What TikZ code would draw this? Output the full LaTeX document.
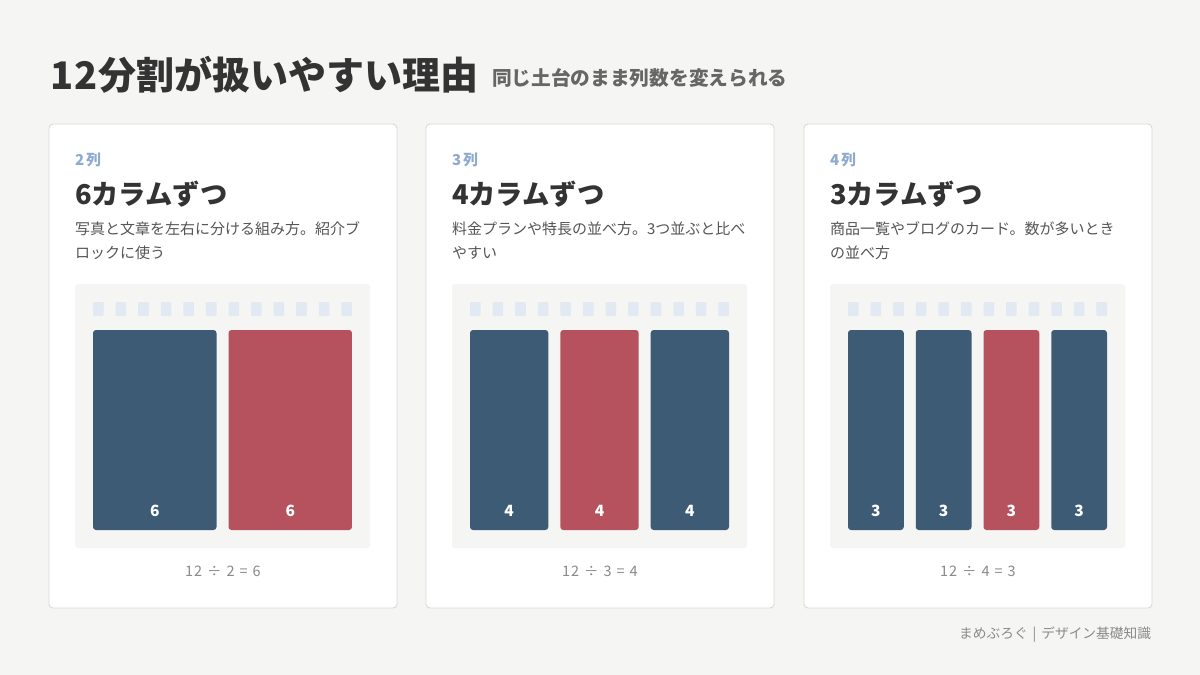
\documentclass[tikz,border=0pt]{standalone}
\usepackage{fontspec}
\setmainfont{Noto Sans CJK JP}
\definecolor{bgc}{HTML}{F5F5F3}
\definecolor{cardline}{HTML}{D9D9D7}
\definecolor{panelc}{HTML}{F5F5F3}
\definecolor{tickc}{HTML}{E2E9F3}
\definecolor{bluec}{HTML}{3E5B76}
\definecolor{redc}{HTML}{B5525E}
\definecolor{labelc}{HTML}{8EAAD0}
\definecolor{titlec}{HTML}{333333}
\definecolor{subc}{HTML}{666666}
\definecolor{descc}{HTML}{555555}
\definecolor{greyc}{HTML}{8A8A8A}
\tikzset{
  txt/.style={inner sep=0pt, outer sep=0pt},
  cardbox/.style={fill=white, draw=cardline, line width=0.9pt, rounded corners=4pt},
  panelbox/.style={fill=panelc, rounded corners=3pt},
  tickbox/.style={fill=tickc, rounded corners=0.8pt},
  colbox/.style={rounded corners=3pt},
}
\begin{document}
\begin{tikzpicture}[x=1pt,y=-1pt]
\useasboundingbox (0,0) rectangle (1200,675);
\fill[bgc] (0,0) rectangle (1200,675);
\node[txt, anchor=base west, text=titlec, font=\fontsize{38}{44}\selectfont\bfseries] (title) at (50,89) {1\kern1pt2\kern1pt分割が扱いやすい理由};
\node[txt, anchor=base west, text=subc, font=\fontsize{19.7}{24}\selectfont\bfseries] (subtitle) at (492,85.5) {同じ土台のまま列数を変えられる};
\foreach \i/\dx/\n/\s/\hl/\lab/\labn/\head/\la/\lb/\fa/\fb in {
  1/0/2/6/1/2/列/6カラムずつ/写真と文章を左右に分ける組み方。紹介ブ/ロックに使う/2/6,
  2/377/3/4/1/3/列/4カラムずつ/料金プランや特長の並べ方。3つ並ぶと比べ/やすい/3/4,
  3/755/4/3/2/4/列/3カラムずつ/商品一覧やブログのカード。数が多いとき/の並べ方/4/3}{
  \draw[cardbox] (49+\dx,124) rectangle (397+\dx,608);
  \fill[panelbox] (75+\dx,284) rectangle (370+\dx,548);
  \node[txt, anchor=base west, text=labelc, font=\fontsize{15}{18}\selectfont\bfseries] (lab-\i) at (75+\dx,165.5) {\lab\kern2pt\labn};
  \node[txt, anchor=base west, text=titlec, font=\fontsize{27.3}{32}\selectfont\bfseries] (head-\i) at (75+\dx,204) {\head};
  \node[txt, anchor=base west, text=descc, font=\fontsize{15}{24}\selectfont] (desca-\i) at (75+\dx,234.5) {\la};
  \node[txt, anchor=base west, text=descc, font=\fontsize{15}{24}\selectfont] (descb-\i) at (75+\dx,258.5) {\lb};
  \foreach \k in {0,...,11}{
    \fill[tickbox] ({93+\dx+\k*22.583},302) rectangle ++(10.583,14);
  }
  \pgfmathtruncatemacro{\nn}{\n-1}
  \foreach \j in {0,...,\nn}{
    \pgfmathsetmacro{\xa}{93+\dx+\j*\s*22.583}
    \pgfmathsetmacro{\xb}{\xa+\s*22.583-12}
    \pgfmathsetmacro{\xc}{(\xa+\xb)/2}
    \ifnum\j=\hl
      \fill[colbox, redc] (\xa,330) rectangle (\xb,530);
    \else
      \fill[colbox, bluec] (\xa,330) rectangle (\xb,530);
    \fi
    \node[txt, anchor=base, text=white, font=\fontsize{15.5}{18}\selectfont\bfseries] (num-\i-\j) at (\xc,516.5) {\s};
  }
  \node[txt, anchor=base, text=greyc, font=\fontsize{14.5}{18}\selectfont] (frm-\i) at (223+\dx,576.5) {1\kern0.8pt2\kern5pt÷\kern5pt\fa\kern5pt=\kern5pt\fb};
}
\node[txt, anchor=base east, text=greyc, font=\fontsize{13.7}{16}\selectfont] (footer) at (1151,638.5) {まめぶろぐ\kern5pt|\kern5ptデザイン基礎知識};
\end{tikzpicture}
\end{document}
